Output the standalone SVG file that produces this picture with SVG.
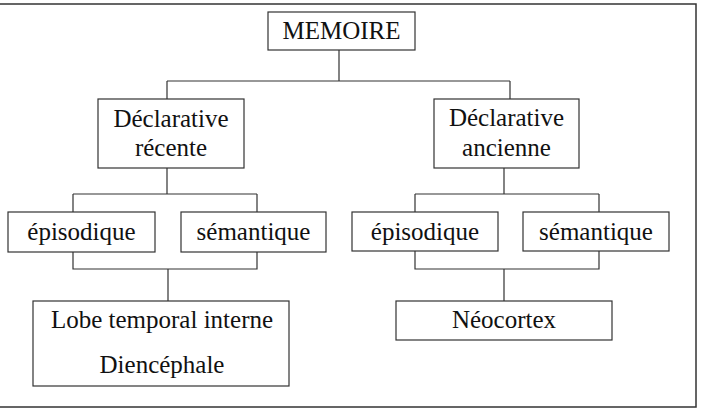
<svg xmlns="http://www.w3.org/2000/svg" width="702" height="410" viewBox="0 0 702 410">
<style>
.box{fill:#fff;stroke:#333;stroke-width:1.2}
.ln{fill:none;stroke:#333;stroke-width:1.2}
text{font-family:"Liberation Serif","Times New Roman",serif;font-size:25px;fill:#111;text-anchor:middle}
</style>
<rect x="-2" y="4" width="698" height="403" fill="#fff" stroke="#333" stroke-width="1.5"/>
<g id="connectors">
<path class="ln" d="M339,50 V81 M167,81 H510 M167,81 V99 M510,81 V99"/>
<path class="ln" d="M167,168 V194 M73,194 H257 M73,194 V212 M257,194 V212"/>
<path class="ln" d="M504,168 V194 M415,194 H599 M415,194 V212 M599,194 V212"/>
<path class="ln" d="M73,252 V269 H257 V252 M168,269 V301"/>
<path class="ln" d="M415,251 V269 H599 V251 M504,269 V301"/>
</g>
<g id="memoire"><rect class="box" x="268" y="12" width="147" height="38"/><text x="341.5" y="39">MEMOIRE</text></g>
<g id="decl-recente"><rect class="box" x="98" y="99" width="146" height="69"/><text x="171" y="127">Déclarative</text><text x="171" y="156">récente</text></g>
<g id="decl-ancienne"><rect class="box" x="434" y="99" width="145" height="69"/><text x="506.5" y="126">Déclarative</text><text x="506.5" y="156">ancienne</text></g>
<g id="episodique-1"><rect class="box" x="8" y="212" width="147" height="40"/><text x="81.5" y="240">épisodique</text></g>
<g id="semantique-1"><rect class="box" x="181" y="212" width="145" height="40"/><text x="253.5" y="240">sémantique</text></g>
<g id="episodique-2"><rect class="box" x="352" y="212" width="146" height="39"/><text x="425" y="240">épisodique</text></g>
<g id="semantique-2"><rect class="box" x="523" y="212" width="146" height="39"/><text x="596" y="240">sémantique</text></g>
<g id="lobe"><rect class="box" x="33" y="301" width="256" height="85"/><text x="162" y="328">Lobe temporal interne</text><text x="162" y="373">Diencéphale</text></g>
<g id="neocortex"><rect class="box" x="396" y="301" width="216" height="39"/><text x="504" y="328">Néocortex</text></g>
</svg>
